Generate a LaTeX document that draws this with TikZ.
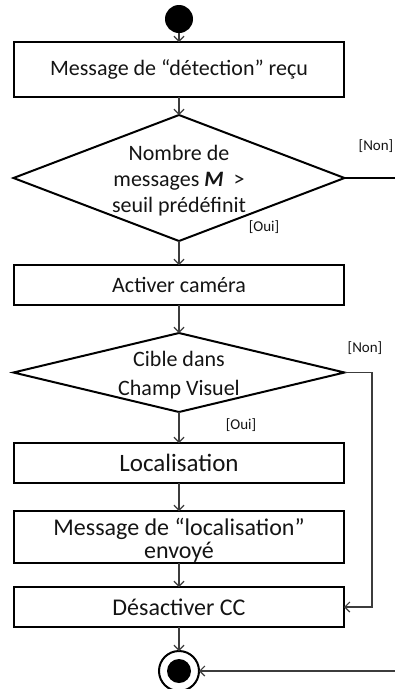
\documentclass[tikz,border=0pt]{standalone}
\usepackage{fontspec}
\setmainfont{Carlito}
\usetikzlibrary{shapes.geometric,arrows.meta}
\definecolor{txtc}{HTML}{141414}
\definecolor{linec}{HTML}{3C3C3C}
\begin{document}
\begin{tikzpicture}[x=1pt,y=-1pt,
  box/.style={draw=black,line width=2pt,rectangle,minimum width=330pt,inner sep=0pt,outer sep=0pt,text=txtc,align=center},
  dia/.style={draw=black,line width=2pt,diamond,minimum width=331pt,inner sep=0pt,outer sep=0pt},
  txt/.style={text=txtc,align=center,inner sep=0pt},
  lbl/.style={text=txtc,inner sep=0pt,font=\fontsize{15}{18}\selectfont},
  arr/.style={draw=linec,line width=1.2pt,-{Straight Barb[length=5pt,width=10pt]}},
]
\useasboundingbox (0,0) rectangle (395,689);

\node[circle,fill=black,minimum size=28pt,inner sep=0pt,outer sep=0pt] (start) at (179,19) {};
\node[box,minimum height=55pt,font=\fontsize{22}{26}\selectfont] (b1) at (179,69.5) {Message de “détection” reçu};
\node[dia,minimum height=126pt] (d1) at (179,178) {};
\node[txt,font=\fontsize{22}{26}\selectfont] (t1) at (179,181) {Nombre de\\messages \textbf{\textit{M}}~ >\\seuil prédéfinit};
\node[box,minimum height=40pt,font=\fontsize{22}{26}\selectfont] (b2) at (179,285) {Activer caméra};
\node[dia,minimum height=79pt] (d2) at (179,372.5) {};
\node[txt,font=\fontsize{22}{29}\selectfont] (t2) at (179,375) {Cible dans\\Champ Visuel};
\node[box,minimum height=40pt,font=\fontsize{25}{28}\selectfont] (b3) at (179,463) {Localisation};
\node[box,minimum height=52pt,font=\fontsize{24}{23}\selectfont] (b4) at (179,537) {};
\node[txt,font=\fontsize{24}{23}\selectfont] (t4) at (179,540) {Message de “localisation”\\envoyé};
\node[box,minimum height=40pt,font=\fontsize{24}{28}\selectfont] (b5) at (179,607) {Désactiver CC};
\node[circle,draw=black,line width=2pt,fill=white,minimum size=40pt,inner sep=0pt,outer sep=0pt] (end) at (179,671) {};
\node[circle,fill=black,minimum size=24pt,inner sep=0pt] (endin) at (end.center) {};

\coordinate (o1) at (395,178);
\coordinate (r2) at (372,0);
\coordinate (o3) at (395,671);

\draw[arr] (start) -- (b1.north);
\draw[arr] (b1.south) -- (d1.north);
\draw[arr] (d1.south) -- (b2.north);
\draw[arr] (b2.south) -- (d2.north);
\draw[arr] (d2.south) -- (b3.north);
\draw[arr] (b3.south) -- (b4.north);
\draw[arr] (b4.south) -- (b5.north);
\draw[arr] (b5.south) -- (end.north);
\draw[black,line width=1.5pt] (d1.east) -- (o1);
\draw[arr] (d2.east) -- (d2.east -| r2) -- (b5.east -| r2) -- (b5.east);
\draw[arr] (o3) -- (end.east);

\node[lbl] (n1) at (376,146) {[Non]};
\node[lbl] (y1) at (264,227) {[Oui]};
\node[lbl] (n2) at (365,348) {[Non]};
\node[lbl] (y2) at (241,425) {[Oui]};
\end{tikzpicture}
\end{document}
